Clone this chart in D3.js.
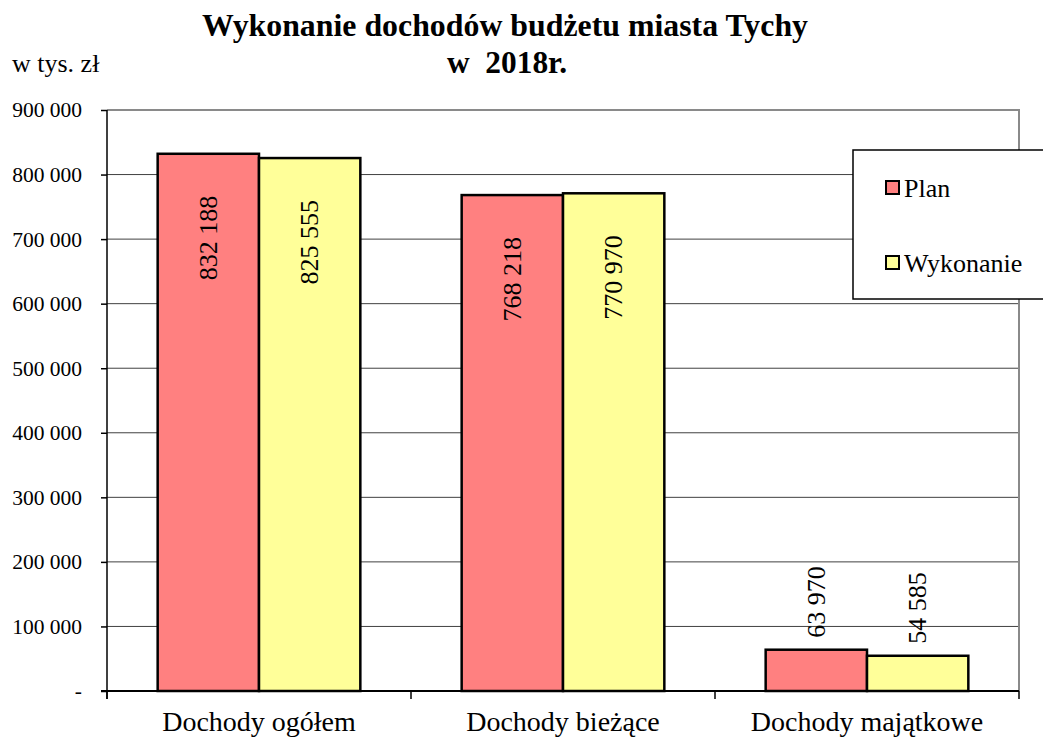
<!DOCTYPE html>
<html>
<head>
<meta charset="utf-8">
<script src="https://cdn.jsdelivr.net/npm/d3@7"></script>
<style>
  body { margin: 0; background: #fff; }
  text { font-family: "Liberation Serif", "Times New Roman", serif; fill: #000; }
</style>
</head>
<body>
<svg id="chart" width="1043" height="740"></svg>
<script>
const categories = ["Dochody ogółem", "Dochody bieżące", "Dochody majątkowe"];
const series = ["Plan", "Wykonanie"];
const planValues = [832188, 768218, 63970];
const wykonanieValues = [825555, 770970, 54585];
const yTicks = [0, 100000, 200000, 300000, 400000, 500000, 600000, 700000, 800000, 900000];
const colors = ["#FF8080", "#FFFF99"];

const data = categories.map((c, i) => ({
  category: c,
  values: [
    { key: "Plan", value: planValues[i] },
    { key: "Wykonanie", value: wykonanieValues[i] }
  ]
}));

const svg = d3.select("#chart");
const mLeft = 107, mRight = 1019, mTop = 110, mBottom = 691;

const x0 = d3.scaleBand().domain(categories).range([mLeft, mRight]);
const bw = x0.bandwidth();
const x1 = d3.scaleBand().domain(series).range([bw / 6, bw * 5 / 6]);
const y = d3.scaleLinear().domain([0, 900000]).range([mBottom, mTop]);
const color = d3.scaleOrdinal().domain(series).range(colors);

const fmt = v => v === 0 ? "-" : d3.format(",")(v).replace(/,/g, " ");

// gridlines
svg.append("g")
  .selectAll("line")
  .data(yTicks.filter(t => t > 0 && t < 900000))
  .enter()
  .append("line")
  .attr("x1", mLeft).attr("x2", mRight)
  .attr("y1", d => y(d)).attr("y2", d => y(d))
  .attr("stroke", "#404040")
  .attr("stroke-width", 1);

// plot border (top, right)
svg.append("path")
  .attr("d", `M${mLeft},${mTop}H${mRight}V${mBottom}`)
  .attr("fill", "none")
  .attr("stroke", "#8a8a8a")
  .attr("stroke-width", 2);

// bars
const groups = svg.append("g")
  .selectAll("g")
  .data(data)
  .enter()
  .append("g")
  .attr("transform", d => `translate(${x0(d.category)},0)`);

groups.selectAll("rect")
  .data(d => d.values)
  .enter()
  .append("rect")
  .attr("x", d => x1(d.key))
  .attr("y", d => y(d.value))
  .attr("width", x1.bandwidth())
  .attr("height", d => mBottom - y(d.value))
  .attr("fill", d => color(d.key))
  .attr("stroke", "#000")
  .attr("stroke-width", 2.5);

// value labels, rotated
groups.selectAll("text.val")
  .data(d => d.values)
  .enter()
  .append("text")
  .attr("class", "val")
  .attr("font-size", 26)
  .attr("dominant-baseline", "central")
  .attr("text-anchor", d => d.value > 200000 ? "end" : "start")
  .attr("transform", d => {
    const cx = x1(d.key) + x1.bandwidth() / 2;
    const ty = d.value > 200000 ? y(d.value) + 42 : y(d.value) - 12;
    return `translate(${cx},${ty}) rotate(-90)`;
  })
  .text(d => fmt(d.value));

// y axis
const yAxis = svg.append("g")
  .attr("transform", `translate(${mLeft},0)`)
  .call(d3.axisLeft(y).tickValues(yTicks).tickFormat(fmt).tickSize(6).tickPadding(19));
yAxis.select(".domain").remove();
yAxis.selectAll(".tick line").attr("stroke", "#000").attr("stroke-width", 1.5);
yAxis.selectAll(".tick text")
  .attr("font-size", 21.5)
  .attr("font-family", "Liberation Serif, serif");
svg.append("line")
  .attr("x1", mLeft).attr("x2", mLeft)
  .attr("y1", mTop).attr("y2", mBottom + 8)
  .attr("stroke", "#000").attr("stroke-width", 1.5);

// x axis
svg.append("line")
  .attr("x1", mLeft - 6).attr("x2", mRight)
  .attr("y1", mBottom).attr("y2", mBottom)
  .attr("stroke", "#000").attr("stroke-width", 2);
svg.append("g")
  .selectAll("line")
  .data(categories.map(c => x0(c)).concat([mRight]))
  .enter()
  .append("line")
  .attr("x1", d => d).attr("x2", d => d)
  .attr("y1", mBottom).attr("y2", mBottom + 8)
  .attr("stroke", "#000").attr("stroke-width", 1.5);
svg.append("g")
  .selectAll("text")
  .data(categories)
  .enter()
  .append("text")
  .attr("x", d => x0(d) + bw / 2)
  .attr("y", 731)
  .attr("text-anchor", "middle")
  .attr("font-size", 28)
  .text(d => d);

// title
svg.append("text")
  .attr("x", 505).attr("y", 36)
  .attr("text-anchor", "middle")
  .attr("font-size", 32).attr("font-weight", "bold")
  .attr("textLength", 606).attr("lengthAdjust", "spacingAndGlyphs")
  .text("Wykonanie dochodów budżetu miasta Tychy");
svg.append("text")
  .attr("x", 507).attr("y", 73)
  .attr("text-anchor", "middle")
  .attr("font-size", 32).attr("font-weight", "bold")
  .attr("textLength", 120).attr("lengthAdjust", "spacingAndGlyphs")
  .style("white-space", "pre")
  .text("w  2018r.");

svg.append("text")
  .attr("x", 12).attr("y", 72)
  .attr("font-size", 26)
  .text("w tys. zł");

// legend
const legend = svg.append("g");
legend.append("rect")
  .attr("x", 853).attr("y", 150)
  .attr("width", 200).attr("height", 149)
  .attr("fill", "#fff").attr("stroke", "#000").attr("stroke-width", 1.5);
const li = legend.selectAll("g")
  .data(series)
  .enter()
  .append("g")
  .attr("transform", (d, i) => `translate(886,${181 + i * 75})`);
li.append("rect")
  .attr("width", 13).attr("height", 13)
  .attr("fill", d => color(d))
  .attr("stroke", "#000").attr("stroke-width", 2);
li.append("text")
  .attr("x", 18).attr("y", 16)
  .attr("font-size", 26)
  .text(d => d);
</script>
</body>
</html>
